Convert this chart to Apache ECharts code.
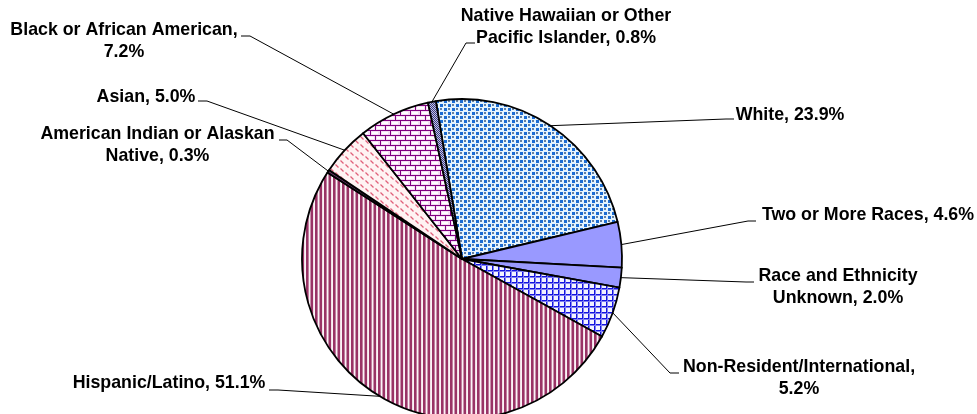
<!DOCTYPE html>
<html><head><meta charset="utf-8">
<script src="https://cdn.jsdelivr.net/npm/echarts@6/dist/echarts.min.js"></script>
<style>html,body{margin:0;padding:0;background:#fff}#c{width:977px;height:414px}</style>
</head><body><div id="c"></div>
<script>
// ---- data ----
const categories = ['White','Two or More Races','Race and Ethnicity Unknown','Non-Resident/International','Hispanic/Latino','American Indian or Alaskan Native','Asian','Black or African American','Native Hawaiian or Other Pacific Islander'];
const percents = [23.9, 4.6, 2.0, 5.2, 51.1, 0.3, 5.0, 7.2, 0.8];
// words on the first label line (0 = single line)
const firstLineWords = [0, 0, 3, 1, 0, 4, 0, 4, 4];

// ---- label layout (positions only) ----
const labelCenters = [[790,115],[868,215],[838,287],[799,378],[169,383],[157.5,145],[146,97],[124,41],[566,27.5]];
const leaderKnees = [[726,119,734],[748,221,756],[746,282,754],[670,373,679],[278,390,269],[287,140,279],[207,101,198],[250,36,241],[466,43,475]];

// ---- pattern tiles ----
function tile(w, h, draw) {
  const c = document.createElement('canvas'); c.width = w; c.height = h;
  const g = c.getContext('2d'); draw(g, w, h); return c;
}
const pConfetti = tile(8, 8, (g) => {
  g.fillStyle = '#e4f4ff'; g.fillRect(0,0,8,8);
  g.fillStyle = '#1a6cd4'; g.fillRect(0,0,3,3); g.fillRect(4,4,3,3);
  g.fillStyle = '#66809f'; g.fillRect(4,0,2,2); g.fillRect(0,4,2,2);
});
const pGrid = tile(6, 6, (g) => {
  g.fillStyle = '#f3f3ff'; g.fillRect(0,0,6,6);
  g.fillStyle = '#1414e0'; g.fillRect(0,0,6,1); g.fillRect(0,0,1,6);
  g.fillStyle = '#8080f0'; g.fillRect(0,1,6,1); g.fillRect(1,0,1,6);
});
const pStripes = tile(9, 4, (g) => {
  g.fillStyle = '#fbf3f7'; g.fillRect(0,0,9,4);
  g.fillStyle = '#993366'; g.fillRect(0,0,2.6,4); g.fillRect(4.5,0,2.6,4);
});
const pDash = tile(10, 8, (g) => {
  g.fillStyle = '#fff3f3'; g.fillRect(0,0,10,8);
  g.strokeStyle = '#e0607a'; g.lineWidth = 1.3;
  g.beginPath(); g.moveTo(0.5,0.5); g.lineTo(3.5,3.5); g.moveTo(5.5,4.5); g.lineTo(8.5,7.5); g.stroke();
});
const pBrick = tile(10, 10, (g) => {
  g.fillStyle = '#f6dcf4'; g.fillRect(0,0,10,10);
  g.fillStyle = '#ffffff'; g.fillRect(2,2,6,2); g.fillRect(7,7,3,2); g.fillRect(0,7,4,2);
  g.fillStyle = '#800080';
  g.fillRect(0,0,10,1); g.fillRect(0,5,10,1);
  g.fillRect(0,0,1,5); g.fillRect(5,5,1,5);
});
const pChecker = tile(2, 2, (g) => {
  g.fillStyle = '#c4c4e6'; g.fillRect(0,0,2,2);
  g.fillStyle = '#3c3c80'; g.fillRect(0,0,1,1); g.fillRect(1,1,1,1);
});
const sliceFills = [
  {image: pConfetti, repeat: 'repeat'},
  '#9999ff',
  '#9999ff',
  {image: pGrid, repeat: 'repeat'},
  {image: pStripes, repeat: 'repeat'},
  '#663366',
  {image: pDash, repeat: 'repeat'},
  {image: pBrick, repeat: 'repeat'},
  {image: pChecker, repeat: 'repeat'}
];

function labelText(i) {
  const words = (categories[i] + ', ' + percents[i].toFixed(1) + '%').split(' ');
  const n = firstLineWords[i];
  if (!n) return words.join(' ');
  return words.slice(0, n).join(' ') + '\n' + words.slice(n).join(' ');
}

const chart = echarts.init(document.getElementById('c'), null, {renderer: 'canvas'});
chart.setOption({
  backgroundColor: '#ffffff',
  animation: false,
  series: [{
    type: 'pie',
    center: [462, 259],
    radius: 160,
    startAngle: 99.4,
    clockwise: true,
    avoidLabelOverlap: false,
    data: categories.map((c, i) => ({name: c, value: percents[i], itemStyle: {color: sliceFills[i]}})),
    itemStyle: {borderColor: '#000', borderWidth: 1.8},
    label: {
      show: true, position: 'outside',
      formatter: (p) => labelText(p.dataIndex),
      color: '#000', fontSize: 17.8, fontWeight: 'bold',
      fontFamily: '"Liberation Sans", Arial, sans-serif', lineHeight: 22
    },
    labelLine: {show: true, length: 10, length2: 10, smooth: false,
      lineStyle: {color: '#000', width: 1}},
    emphasis: {disabled: true},
    labelLayout: function (params) {
      const i = params.dataIndex;
      const k = leaderKnees[i];
      const out = {x: labelCenters[i][0], y: labelCenters[i][1], align: 'center', verticalAlign: 'middle'};
      if (params.labelLinePoints && params.labelLinePoints[0]) {
        out.labelLinePoints = [params.labelLinePoints[0], [k[0], k[1]], [k[2], k[1]]];
      }
      return out;
    }
  }]
});
</script>
</body></html>
